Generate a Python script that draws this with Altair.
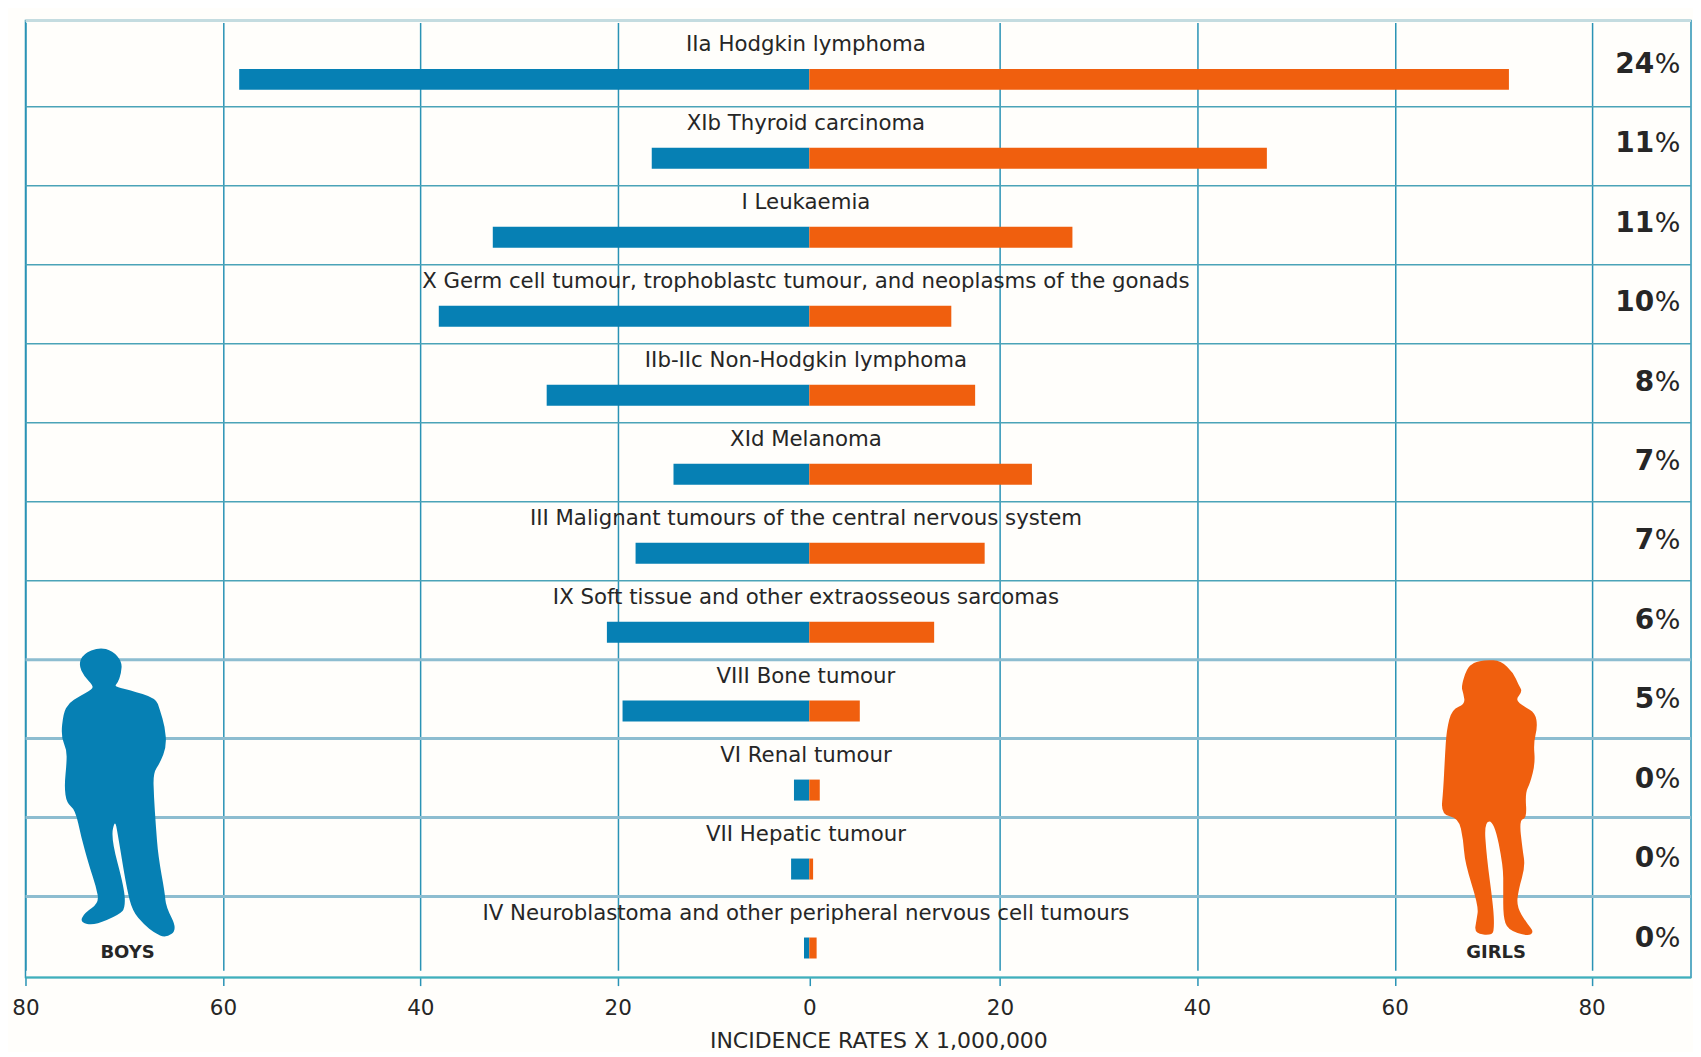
import altair as alt
import pandas as pd

categories = [
    "IIa Hodgkin lymphoma",
    "XIb Thyroid carcinoma",
    "I Leukaemia",
    "X Germ cell tumour, trophoblastc tumour, and neoplasms of the gonads",
    "IIb-IIc Non-Hodgkin lymphoma",
    "XId Melanoma",
    "III Malignant tumours of the central nervous system",
    "IX  Soft tissue and other extraosseous sarcomas",
    "VIII Bone tumour",
    "VI Renal tumour",
    "VII Hepatic tumour",
    "IV Neuroblastoma and other peripheral nervous cell tumours",
]
boys = [-58.35, -16.45, -32.66, -38.13, -27.2, -14.18, -18.14, -21.1, -19.5, -1.6, -1.9, -0.55]
girls = [71.6, 47.07, 27.36, 14.9, 17.4, 23.25, 18.4, 13.1, 5.3, 1.1, 0.4, 0.77]
shares = ["24", "11", "11", "10", "8", "7", "7", "6", "5", "0", "0", "0"]
ticks = [-80, -60, -40, -20, 0, 20, 40, 60, 80]
axis_title = "INCIDENCE RATES X 1,000,000"

BLUE = "#0680b4"
ORANGE = "#f05f0e"
GRID = "#2a93b5"
TEXT = "#262626"
FONT = "DejaVu Sans"

# Silhouette outlines
boy_outline = [(150,22),(190,33),(218,65),(216,100),(205,130),(195,140),(240,150),(320,175),(332,210),(347,260),
    (352,320),(332,370),(312,400),(314,470),(320,560),(327,650),(347,760),(350,800),(385,870),(350,895),(315,880),
    (285,855),(250,815),(232,745),(205,580),(197,540),(185,595),(225,745),(228,805),(210,825),(135,858),(92,848),
    (105,820),(150,790),(140,740),(120,680),(95,590),(78,510),(52,490),(45,440),(52,370),(52,330),(35,290),(42,220),
    (58,190),(90,170),(130,148),(130,135),(105,110),(88,75),(102,42)]
girl_outline = [(170,30),(215,33),(252,68),(268,105),(280,125),(258,150),(285,170),(318,190),(325,230),(313,280),
    (318,340),(303,400),(288,430),(293,505),(270,510),(280,600),(288,650),(268,720),(262,770),(292,820),(315,848),
    (295,860),(235,840),(222,800),(222,720),(222,650),(195,515),(165,515),(172,620),(192,770),(195,830),(190,858),
    (135,852),(142,810),(148,770),(107,640),(102,570),(88,505),(35,495),(42,420),(47,320),(52,240),(68,178),(108,163),
    (102,130),(96,110),(112,58),(132,38)]


def to_path(points):
    """Closed smooth outline: each traced point is a control point, segments meet at midpoints."""
    xs = [p[0] for p in points]
    ys = [p[1] for p in points]
    cx, cy = (min(xs) + max(xs)) / 2, (min(ys) + max(ys)) / 2
    half = (max(ys) - min(ys)) / 2
    unit = [((x - cx) / half, (y - cy) / half) for x, y in points]
    n = len(unit)
    mid = [((unit[i][0] + unit[(i + 1) % n][0]) / 2, (unit[i][1] + unit[(i + 1) % n][1]) / 2) for i in range(n)]
    d = f"M{mid[-1][0]:.4f},{mid[-1][1]:.4f}"
    for i in range(n):
        d += f" Q{unit[i][0]:.4f},{unit[i][1]:.4f} {mid[i][0]:.4f},{mid[i][1]:.4f}"
    return d + " Z"


bars = pd.DataFrame(
    [{"category": c, "sex": "Boys", "value": v} for c, v in zip(categories, boys)]
    + [{"category": c, "sex": "Girls", "value": v} for c, v in zip(categories, girls)]
)
rows = pd.DataFrame({"category": categories, "share": shares})

x_scale = alt.Scale(
    domain=[-80, -60, -40, -20, 0, 20, 40, 60, 80, 90],
    range=[0, 197.6, 395.2, 592.8, 784.5, 975.3, 1172.5, 1370.5, 1567.5, 1667],
)
y_scale = alt.Scale(domain=categories, range=[7.45, 955.9], paddingInner=0, paddingOuter=0)
y_pct_scale = alt.Scale(domain=categories, range=[4.25, 958.25], paddingInner=0, paddingOuter=0)

X_AXIS = alt.Axis(
    values=ticks,
    labelExpr="abs(datum.value)",
    title=None,
    labelFont=FONT,
    labelFontSize=21.5,
    labelColor=TEXT,
    labelPadding=12,
    labelOverlap=False,
    labelBound=False,
    labelFlush=False,
    tickSize=8,
    tickColor=GRID,
    tickWidth=1.5,
    grid=True,
    gridColor=GRID,
    gridWidth=1.5,
    gridOpacity=alt.expr("datum.value === 0 ? 0 : 1"),
    domain=False,
)

base_y = alt.Y("category:N", scale=y_scale, axis=None, sort=categories)
edge_y = alt.Y("category:N", scale=y_scale, axis=None, sort=categories, bandPosition=1)
pct_y = alt.Y("category:N", scale=y_pct_scale, axis=None, sort=categories)

grid_base = (
    alt.Chart(pd.DataFrame({"v": ticks}))
    .mark_point(opacity=0)
    .encode(x=alt.X("v:Q", scale=x_scale, axis=X_AXIS))
)

thin_rules = alt.Chart(rows.iloc[:7]).mark_rule(strokeWidth=1.5, color="#4ba3b8").encode(y=edge_y)
thick_rules = alt.Chart(rows.iloc[7:11]).mark_rule(strokeWidth=3, color="#8dbdd0").encode(y=edge_y)
top_rule = alt.Chart(pd.DataFrame({"a": [0]})).mark_rule(strokeWidth=3, color="#c4dce0").encode(y=alt.value(0))
bottom_rule = alt.Chart(pd.DataFrame({"a": [0]})).mark_rule(strokeWidth=2, color="#3fb0bb").encode(y=alt.value(958))

bar_layer = (
    alt.Chart(bars)
    .mark_bar(height=21, yOffset=12)
    .encode(
        x=alt.X("value:Q", scale=x_scale, stack=None, title=None),
        y=base_y,
        color=alt.Color("sex:N", scale=alt.Scale(domain=["Boys", "Girls"], range=[BLUE, ORANGE]), legend=None),
    )
)

cat_labels = (
    alt.Chart(rows)
    .mark_text(font=FONT, fontSize=21.3, color=TEXT, yOffset=-22.5, align="center", baseline="middle")
    .encode(x=alt.X(datum=-0.35, scale=x_scale), y=base_y, text="category:N")
)

pct_num = (
    alt.Chart(rows)
    .mark_text(font=FONT, fontSize=28, fontWeight="bold", color=TEXT, yOffset=0.5, align="right", baseline="middle")
    .encode(x=alt.X(datum=86.3, scale=x_scale), y=pct_y, text="share:N")
)
pct_sign = (
    alt.Chart(rows)
    .mark_text(font=FONT, fontSize=27, color=TEXT, yOffset=0.5, align="left", baseline="middle", text="%")
    .encode(x=alt.X(datum=86.35, scale=x_scale), y=pct_y)
)

figures = pd.DataFrame({"name": ["BOYS", "GIRLS"], "fx": [-70.5, 69.6], "lx": [-69.66, 70.3]})

boy = (
    alt.Chart(figures.iloc[[0]])
    .mark_point(shape=to_path(boy_outline), filled=True, opacity=1, color=BLUE, size=84681, strokeWidth=0)
    .encode(x=alt.X("fx:Q", scale=x_scale), y=alt.value(772.8))
)
girl = (
    alt.Chart(figures.iloc[[1]])
    .mark_point(shape=to_path(girl_outline), filled=True, opacity=1, color=ORANGE, size=76544, strokeWidth=0)
    .encode(x=alt.X("fx:Q", scale=x_scale), y=alt.value(778.3))
)
fig_labels = (
    alt.Chart(figures)
    .mark_text(font=FONT, fontSize=18, fontWeight="bold", color=TEXT, baseline="middle")
    .encode(x=alt.X("lx:Q", scale=x_scale), y=alt.value(933.5), text="name:N")
)
title_text = (
    alt.Chart(pd.DataFrame({"t": [axis_title]}))
    .mark_text(font=FONT, fontSize=22, color=TEXT, baseline="middle")
    .encode(x=alt.X(datum=7.3, scale=x_scale), y=alt.value(1021), text="t:N")
)

chart = (
    alt.layer(grid_base, thin_rules, thick_rules, top_rule, bottom_rule, bar_layer, boy, girl, cat_labels, pct_num, pct_sign, fig_labels, title_text)
    .resolve_scale(y="independent")
    .properties(
        width=1667,
        height=958,
        background="#fffefb",
        padding={"left": 3.5, "top": 10, "right": 0, "bottom": 0},
    )
    .configure_view(stroke=GRID, strokeWidth=1.5)
)

chart.save("out.html", embed_options={"renderer": "svg", "actions": False})
